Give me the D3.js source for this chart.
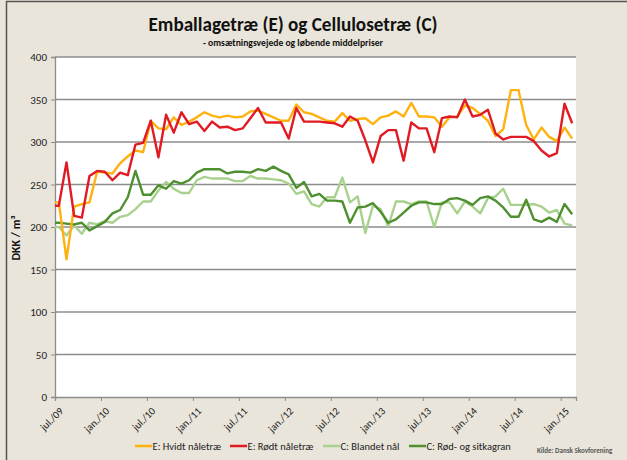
<!DOCTYPE html>
<html><head><meta charset="utf-8">
<script src="https://cdn.jsdelivr.net/npm/d3@7"></script>
<style>body{margin:0;background:#e9e5da;}svg{display:block;font-family:Carlito,Lato,"Open Sans",sans-serif;}</style>
</head><body>
<svg id="chart" width="627" height="460"></svg>
<script>
// Month offsets since jul/09 (points at mid-month)
const tickLabels = ["jul./09","jan./10","jul./10","jan./11","jul./11","jan./12","jul./12","jan./13","jul./13","jan./14","jul./14","jan./15"];
const yTicks = [0,50,100,150,200,250,300,350,400];
const seriesNames = ["E: Hvidt nåletræ","E: Rødt nåletræ","C: Blandet nål","C: Rød- og sitkagran"];
const seriesColors = ["#ffb20f","#e01b24","#a9d18e","#4e9030"];
const hvidt = [229,162,224,227,229,265,264,263,275,283,290,288,325,316,315,329,320,324,329,335,331,329,331,329,330,336,337,333,329,325,325,344,335,333,329,325,324,334,325,327,328,321,329,331,336,330,346,330,330,329,318,329,330,343,340,333,325,307,315,361,361,320,303,317,306,301,317,304];
const roedt = [225,276,213,211,260,266,265,255,264,261,297,299,325,282,332,311,335,321,324,313,324,317,318,314,316,328,340,323,323,323,304,340,324,324,324,323,322,318,330,325,302,276,307,314,314,278,323,316,316,288,328,330,329,350,330,332,338,310,303,306,306,306,301,290,283,287,345,322];
const blandet = [200,190,202,192,205,203,207,205,212,214,221,230,230,243,253,245,240,240,255,259,257,257,257,254,254,260,257,257,256,255,251,239,242,227,224,235,235,258,229,236,193,225,221,201,230,230,227,230,230,200,229,229,216,230,224,216,234,236,245,226,226,226,227,224,217,220,204,202];
const sitka = [205,204,203,205,196,201,206,216,220,235,266,238,238,249,245,254,251,255,264,268,268,268,263,265,265,264,268,266,271,266,262,246,253,236,239,231,231,230,205,223,224,228,218,205,209,217,225,229,229,227,227,233,234,231,226,234,236,231,223,212,212,232,209,206,211,206,227,215];
const seriesValues = [hvidt, roedt, blandet, sitka];

const svg = d3.select("#chart");
const W = 627, H = 460;
const plot = {left:55, right:576, top:57, bottom:397};

// background & frame
svg.append("rect").attr("width",W).attr("height",H).attr("fill","#e9e5da");
svg.append("line").attr("x1",6).attr("x2",W).attr("y1",1.5).attr("y2",1.5).attr("stroke","#555").attr("stroke-width",1.5);
svg.append("line").attr("x1",6.5).attr("x2",6.5).attr("y1",1).attr("y2",H).attr("stroke","#555").attr("stroke-width",1.5);
svg.append("rect").attr("x",plot.left).attr("y",plot.top).attr("width",plot.right-plot.left).attr("height",plot.bottom-plot.top).attr("fill","#fff");

const x = d3.scaleLinear().domain([0,68]).range([plot.left, plot.right]);
const y = d3.scaleLinear().domain([0,400]).range([plot.bottom, plot.top]);

// gridlines
svg.append("g").selectAll("line").data(yTicks.filter(d=>d>0)).join("line")
  .attr("x1",plot.left).attr("x2",plot.right)
  .attr("y1",d=>y(d)).attr("y2",d=>y(d))
  .attr("stroke","#8c8c8c").attr("stroke-width",1.3);

// y axis
const yAxis = d3.axisLeft(y).tickValues(yTicks).tickSize(4).tickPadding(4);
const gy = svg.append("g").attr("transform",`translate(${plot.left},0)`).call(yAxis);
gy.select(".domain").attr("stroke","#8c8c8c").attr("stroke-width",1.3);
gy.selectAll(".tick line").attr("stroke","#8c8c8c");
gy.selectAll(".tick text").attr("font-size",11).attr("fill","#222").attr("font-family","Carlito,Lato,sans-serif");

// x axis
const xTickVals = tickLabels.map((d,i)=>i*6);
const xAxis = d3.axisBottom(x).tickValues(xTickVals).tickSize(4).tickFormat((d,i)=>tickLabels[i]);
const gx = svg.append("g").attr("transform",`translate(0,${plot.bottom})`).call(xAxis);
gx.select(".domain").attr("stroke","#8c8c8c").attr("stroke-width",1.3);
gx.selectAll(".tick line").attr("stroke","#8c8c8c");
gx.selectAll(".tick text")
  .attr("font-size",10.5).attr("fill","#222").attr("font-family","Carlito,Lato,sans-serif")
  .attr("text-anchor","end").attr("y",0).attr("dy","0.35em")
  .attr("transform","translate(6,12) rotate(-45)");

// lines
const line = d3.line().x(d=>x(d.m)).y(d=>y(d.v)).curve(d3.curveLinear);
const order = [2,3,0,1];
order.forEach(si=>{
  const vals = seriesValues[si];
  const pts = [{m:0,v:vals[0]}].concat(vals.map((v,i)=>({m:i+0.5,v})));
  svg.append("path").datum(pts).attr("d",line)
    .attr("fill","none").attr("stroke",seriesColors[si]).attr("stroke-width",2.4)
    .attr("stroke-linejoin","round");
});

// titles
svg.append("text").attr("x",293).attr("y",31).attr("text-anchor","middle")
  .attr("font-size",21).attr("font-weight","bold").attr("fill","#111")
  .attr("textLength",289).attr("lengthAdjust","spacingAndGlyphs")
  .text("Emballagetræ (E) og Cellulosetræ (C)");
svg.append("text").attr("x",293).attr("y",46).attr("text-anchor","middle")
  .attr("font-size",9.5).attr("font-weight","bold").attr("fill","#111")
  .attr("textLength",180).attr("lengthAdjust","spacingAndGlyphs")
  .text("- omsætningsvejede og løbende middelpriser");
svg.append("text").attr("transform","translate(20,238) rotate(-90)").attr("text-anchor","middle")
  .attr("font-size",12).attr("font-weight","bold").attr("fill","#111")
  .text("DKK / m³");

// legend
const legX = [135,230,323,409];
const legY = 446;
const lg = svg.append("g");
seriesNames.forEach((n,i)=>{
  lg.append("line").attr("x1",legX[i]).attr("x2",legX[i]+17).attr("y1",legY).attr("y2",legY)
    .attr("stroke",seriesColors[i]).attr("stroke-width",2.5);
  lg.append("text").attr("x",legX[i]+17.5).attr("y",legY).attr("dy","0.35em")
    .attr("font-size",10.5).attr("fill","#222").text(n);
});

// source
svg.append("text").attr("x",537).attr("y",453).attr("font-size",7).attr("font-weight","bold")
  .attr("fill","#555").text("Kilde: Dansk Skovforening");
</script>
</body></html>
